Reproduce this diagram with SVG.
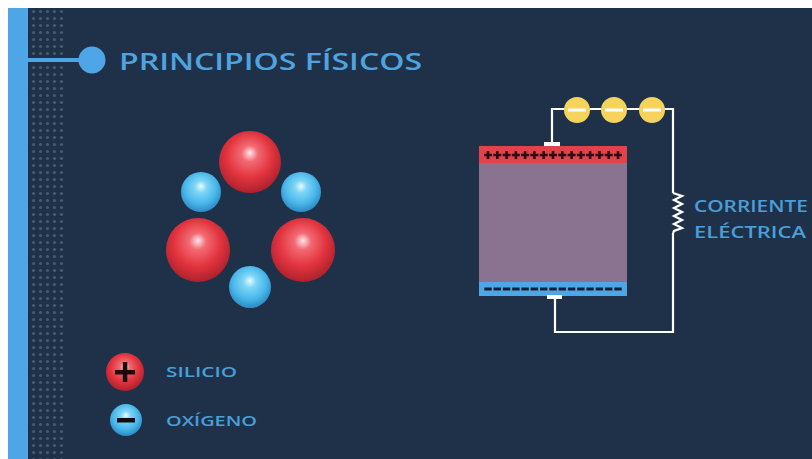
<svg xmlns="http://www.w3.org/2000/svg" width="812" height="459" viewBox="0 0 812 459">
  <defs>
    <style>
      .title { font-family: "Open Sans", "Liberation Sans", sans-serif; font-weight: 600; fill: #4fa3de; }
      .label { font-family: "Open Sans", "Liberation Sans", sans-serif; font-weight: 600; fill: #4a9fd8; }
      .wire { fill: none; stroke: #ffffff; stroke-width: 2.2; stroke-linejoin: miter; }
      .plus { fill: none; stroke: #2a0c12; stroke-width: 2.6; }
    </style>
    <radialGradient id="redBall" cx="0.48" cy="0.42" r="0.6" fx="0.5" fy="0.35">
      <stop offset="0" stop-color="#fbe6ea"/>
      <stop offset="0.22" stop-color="#f26a73"/>
      <stop offset="0.6" stop-color="#e3343f"/>
      <stop offset="1" stop-color="#a8202b"/>
    </radialGradient>
    <radialGradient id="blueBall" cx="0.48" cy="0.42" r="0.6" fx="0.5" fy="0.35">
      <stop offset="0" stop-color="#e8fbff"/>
      <stop offset="0.25" stop-color="#7fd6f6"/>
      <stop offset="0.65" stop-color="#49b8ea"/>
      <stop offset="1" stop-color="#2a86c2"/>
    </radialGradient>
    <pattern id="dots" x="30" y="8" width="7" height="7" patternUnits="userSpaceOnUse">
      <circle cx="3.5" cy="3.5" r="1.6" fill="#46596f"/>
    </pattern>
    <path id="plusMark" class="plus" d="M-4 0H4M0 -4V4"/>
    <rect id="minusMark" x="-3.7" y="-1.5" width="7.4" height="3" fill="#14203a"/>
  </defs>

  <!-- page -->
  <rect width="812" height="459" fill="#ffffff"/>
  <rect x="8" y="8" width="804" height="451" fill="#1f3149"/>
  <rect x="30" y="8" width="35" height="451" fill="url(#dots)"/>
  <rect x="8" y="8" width="20" height="451" fill="#4ea6e6"/>

  <!-- heading -->
  <g id="heading">
    <rect x="28" y="58" width="60" height="4" fill="#4ea6e6"/>
    <circle cx="92" cy="60" r="13.5" fill="#4ea6e6"/>
    <text class="title" x="119" y="70" font-size="23" textLength="303" lengthAdjust="spacingAndGlyphs">PRINCIPIOS FÍSICOS</text>
  </g>

  <!-- SiO2 ring of atoms -->
  <g id="molecule">
    <circle cx="250" cy="162" r="31" fill="url(#redBall)"/>
    <circle cx="201" cy="192" r="20" fill="url(#blueBall)"/>
    <circle cx="301" cy="192" r="20" fill="url(#blueBall)"/>
    <circle cx="198" cy="250" r="32" fill="url(#redBall)"/>
    <circle cx="303" cy="250" r="32" fill="url(#redBall)"/>
    <circle cx="250" cy="287" r="21" fill="url(#blueBall)"/>
  </g>

  <!-- circuit wiring -->
  <g id="connectors">
    <polyline class="wire" points="552,143 552,109 673,109 673,193"/>
    <polyline class="wire" points="673,193 682,196 674,200 682,204 674,208 682,212 674,216 682,220 674,224 682,228 674,231 673,233"/>
    <polyline class="wire" points="673,233 673,332 555,332 555,298"/>
  </g>

  <!-- crystal between charged plates -->
  <g id="crystal">
    <rect x="479" y="146" width="148" height="150" fill="#8a7391"/>
    <rect x="479" y="146" width="148" height="17" fill="#e2424b"/>
    <rect x="479" y="282" width="148" height="14" fill="#4ea6e6"/>
    <rect x="544" y="142" width="16" height="4" fill="#ffffff"/>
    <rect x="547" y="295" width="15" height="4" fill="#ffffff"/>
    <g transform="translate(0 155)">
      <use href="#plusMark" x="488"/>
      <use href="#plusMark" x="497.3"/>
      <use href="#plusMark" x="506.6"/>
      <use href="#plusMark" x="515.9"/>
      <use href="#plusMark" x="525.1"/>
      <use href="#plusMark" x="534.4"/>
      <use href="#plusMark" x="543.7"/>
      <use href="#plusMark" x="553"/>
      <use href="#plusMark" x="562.3"/>
      <use href="#plusMark" x="571.6"/>
      <use href="#plusMark" x="580.9"/>
      <use href="#plusMark" x="590.1"/>
      <use href="#plusMark" x="599.4"/>
      <use href="#plusMark" x="608.7"/>
      <use href="#plusMark" x="618"/>
    </g>
    <g transform="translate(0 289)">
      <use href="#minusMark" x="488"/>
      <use href="#minusMark" x="497.3"/>
      <use href="#minusMark" x="506.6"/>
      <use href="#minusMark" x="515.9"/>
      <use href="#minusMark" x="525.1"/>
      <use href="#minusMark" x="534.4"/>
      <use href="#minusMark" x="543.7"/>
      <use href="#minusMark" x="553"/>
      <use href="#minusMark" x="562.3"/>
      <use href="#minusMark" x="571.6"/>
      <use href="#minusMark" x="580.9"/>
      <use href="#minusMark" x="590.1"/>
      <use href="#minusMark" x="599.4"/>
      <use href="#minusMark" x="608.7"/>
      <use href="#minusMark" x="618"/>
    </g>
  </g>

  <!-- electrons on the wire -->
  <g id="electrons">
    <circle cx="577" cy="110" r="13" fill="#f6d35a"/>
    <circle cx="614" cy="110" r="13" fill="#f6d35a"/>
    <circle cx="652" cy="110" r="13" fill="#f6d35a"/>
    <rect x="568" y="108.5" width="18" height="3" fill="#ffffff"/>
    <rect x="605" y="108.5" width="18" height="3" fill="#ffffff"/>
    <rect x="643" y="108.5" width="18" height="3" fill="#ffffff"/>
  </g>

  <g id="current-label">
    <text class="label" x="694" y="212" font-size="15.5" textLength="114" lengthAdjust="spacingAndGlyphs">CORRIENTE</text>
    <text class="label" x="694" y="238" font-size="15.5" textLength="112" lengthAdjust="spacingAndGlyphs">ELÉCTRICA</text>
  </g>

  <!-- legend -->
  <g id="legend-silicio">
    <circle cx="125" cy="372" r="19" fill="url(#redBall)"/>
    <rect x="115" y="370" width="20" height="4.5" fill="#1a0a0e"/>
    <rect x="122.8" y="362" width="4.5" height="20" fill="#1a0a0e"/>
    <text class="label" x="166" y="377" font-size="14.5" textLength="71" lengthAdjust="spacingAndGlyphs">SILICIO</text>
  </g>
  <g id="legend-oxigeno">
    <circle cx="126" cy="420" r="16" fill="url(#blueBall)"/>
    <rect x="117" y="418" width="18" height="4.5" fill="#1a0a0e"/>
    <text class="label" x="166" y="426" font-size="14.5" textLength="91" lengthAdjust="spacingAndGlyphs">OXÍGENO</text>
  </g>
</svg>
